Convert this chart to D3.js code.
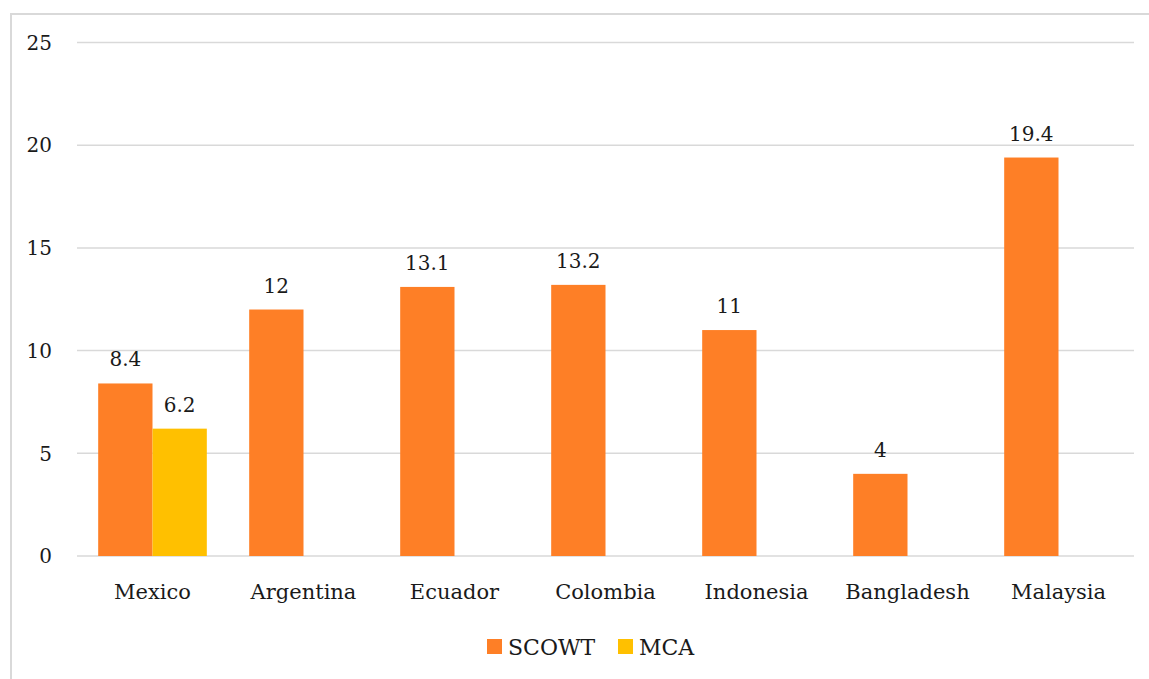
<!DOCTYPE html>
<html>
<head>
<meta charset="utf-8">
<script src="https://cdn.jsdelivr.net/npm/d3@7"></script>
<style>
  body { margin: 0; background: #fff; }
  svg { display: block; }
</style>
</head>
<body>
<svg></svg>
<script>
const countries = ["Mexico", "Argentina", "Ecuador", "Colombia", "Indonesia", "Bangladesh", "Malaysia"];
const scowt = [8.4, 12, 13.1, 13.2, 11, 4, 19.4];
const mca = [6.2, null, null, null, null, null, null];
const seriesNames = ["SCOWT", "MCA"];
const seriesColors = ["#fe7f26", "#ffc000"];
const yTicks = [0, 5, 10, 15, 20, 25];

const width = 1149;
const height = 679;
const plotLeft = 77, plotRight = 1134, plotTop = 42.5, plotBottom = 556;
const font = "'DejaVu Serif', serif";
const ink = "#1a1a1a";

const svg = d3.select("svg")
    .attr("width", width)
    .attr("height", height);

// light frame, only top and left edges show in the picture
svg.append("path")
    .attr("d", `M11,${height} V14 H${width}`)
    .attr("fill", "none")
    .attr("stroke", "#d9d9d9")
    .attr("stroke-width", 2);

const x = d3.scaleBand()
    .domain(countries)
    .range([plotLeft, plotRight]);

const xSub = d3.scaleBand()
    .domain(seriesNames)
    .range([0, x.bandwidth()])
    .paddingOuter(0.39)
    .paddingInner(0);

const y = d3.scaleLinear()
    .domain([0, 25])
    .range([plotBottom, plotTop]);

// gridlines
svg.append("g")
    .selectAll("line")
    .data(yTicks)
    .join("line")
    .attr("x1", plotLeft)
    .attr("x2", plotRight)
    .attr("y1", d => y(d))
    .attr("y2", d => y(d))
    .attr("stroke", "#d9d9d9")
    .attr("stroke-width", 1.5);

// y tick labels
svg.append("g")
    .selectAll("text")
    .data(yTicks)
    .join("text")
    .attr("x", 52)
    .attr("y", d => y(d))
    .attr("dy", "0.36em")
    .attr("text-anchor", "end")
    .attr("font-family", font)
    .attr("font-size", 20)
    .attr("fill", ink)
    .text(d => d);

const rows = [];
countries.forEach((c, i) => {
    rows.push({ country: c, series: "SCOWT", value: scowt[i] });
    if (mca[i] != null) rows.push({ country: c, series: "MCA", value: mca[i] });
});

const bars = svg.append("g");
bars.selectAll("rect")
    .data(rows)
    .join("rect")
    .attr("x", d => x(d.country) + xSub(d.series))
    .attr("width", xSub.bandwidth())
    .attr("y", d => y(d.value))
    .attr("height", d => y(0) - y(d.value))
    .attr("fill", d => seriesColors[seriesNames.indexOf(d.series)]);

// value labels
bars.selectAll("text")
    .data(rows)
    .join("text")
    .attr("x", d => x(d.country) + xSub(d.series) + xSub.bandwidth() / 2)
    .attr("y", d => y(d.value) - 17)
    .attr("text-anchor", "middle")
    .attr("font-family", font)
    .attr("font-size", 20)
    .attr("fill", ink)
    .text(d => d.value);

// category labels
svg.append("g")
    .selectAll("text")
    .data(countries)
    .join("text")
    .attr("x", d => x(d) + x.bandwidth() / 2)
    .attr("y", 599)
    .attr("text-anchor", "middle")
    .attr("font-family", font)
    .attr("font-size", 21)
    .attr("fill", ink)
    .text(d => d);

// legend
const legendX = [487, 618];
const legend = svg.append("g");
seriesNames.forEach((s, i) => {
    legend.append("rect")
        .attr("x", legendX[i])
        .attr("y", 639)
        .attr("width", 15)
        .attr("height", 15)
        .attr("fill", seriesColors[i]);
    legend.append("text")
        .attr("x", legendX[i] + 21)
        .attr("y", 655)
        .attr("font-family", font)
        .attr("font-size", 22)
        .attr("fill", ink)
        .text(s);
});
</script>
</body>
</html>
